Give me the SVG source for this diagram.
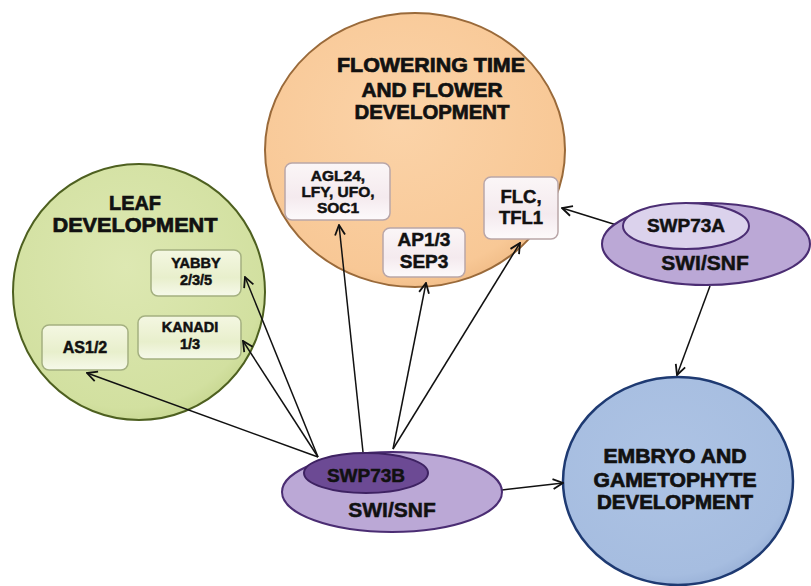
<svg xmlns="http://www.w3.org/2000/svg" width="811" height="586" viewBox="0 0 811 586">
<defs>
<radialGradient id="gGreen" cx="0.45" cy="0.4" r="0.65"><stop offset="0" stop-color="#dde8b2"/><stop offset="0.85" stop-color="#d2e0a0"/><stop offset="1" stop-color="#c4d48c"/></radialGradient>
<radialGradient id="gOrange" cx="0.45" cy="0.4" r="0.65"><stop offset="0" stop-color="#fbd3a8"/><stop offset="0.85" stop-color="#f8c896"/><stop offset="1" stop-color="#eeb882"/></radialGradient>
<radialGradient id="gBlue" cx="0.45" cy="0.4" r="0.65"><stop offset="0" stop-color="#adc3e4"/><stop offset="0.85" stop-color="#a6bde0"/><stop offset="1" stop-color="#94acd4"/></radialGradient>
<linearGradient id="gBoxG" x1="0" y1="0" x2="0" y2="1"><stop offset="0" stop-color="#f4f7e2"/><stop offset="0.6" stop-color="#e8efcc"/><stop offset="1" stop-color="#f6f9ea"/></linearGradient>
<linearGradient id="gBoxO" x1="0" y1="0" x2="0" y2="1"><stop offset="0" stop-color="#fbf6f7"/><stop offset="0.6" stop-color="#f4eaee"/><stop offset="1" stop-color="#fdfafb"/></linearGradient>
<marker id="arr" viewBox="0 0 12 12" refX="11" refY="6" markerWidth="12" markerHeight="12" markerUnits="userSpaceOnUse" orient="auto">
<path d="M1,1 L11,6 L1,11" fill="none" stroke="#111" stroke-width="1.8"/>
</marker>
</defs>
<style>
.t{font-family:"Liberation Sans",Arial,sans-serif;font-weight:bold;fill:#111;stroke:#111;stroke-width:0.5;text-anchor:middle}
.big{font-size:20px;stroke-width:0.7}
.boxG{fill:url(#gBoxG);stroke:#a4b080;stroke-width:1.5}
.boxO{fill:url(#gBoxO);stroke:#b9a6a8;stroke-width:1.5}
.conn line{stroke:#111;stroke-width:1.5;fill:none;marker-end:url(#arr)}
</style>
<rect width="811" height="586" fill="#ffffff"/>

<g id="leaf">
<ellipse cx="139" cy="292" rx="126" ry="128" fill="url(#gGreen)" stroke="#4e6020" stroke-width="2"/>
<text class="t big" x="135" y="210" textLength="52" lengthAdjust="spacingAndGlyphs">LEAF</text>
<text class="t big" x="135" y="232" textLength="165" lengthAdjust="spacingAndGlyphs">DEVELOPMENT</text>
</g>

<g id="flowering">
<ellipse cx="415" cy="150" rx="150" ry="137" fill="url(#gOrange)" stroke="#9a6a3a" stroke-width="2"/>
<text class="t big" x="431" y="72" textLength="188" lengthAdjust="spacingAndGlyphs">FLOWERING TIME</text>
<text class="t big" x="432" y="97" textLength="141" lengthAdjust="spacingAndGlyphs">AND FLOWER</text>
<text class="t big" x="432" y="119" textLength="155" lengthAdjust="spacingAndGlyphs">DEVELOPMENT</text>
</g>

<g id="embryo">
<ellipse cx="678" cy="481" rx="115" ry="104" fill="url(#gBlue)" stroke="#1e3a72" stroke-width="2.5"/>
<text class="t big" x="675" y="463" textLength="143" lengthAdjust="spacingAndGlyphs">EMBRYO AND</text>
<text class="t big" x="675" y="487" textLength="163" lengthAdjust="spacingAndGlyphs">GAMETOPHYTE</text>
<text class="t big" x="675" y="509" textLength="156" lengthAdjust="spacingAndGlyphs">DEVELOPMENT</text>
</g>

<g id="yabby">
<rect class="boxG" x="151" y="250" width="90" height="46" rx="7"/>
<text class="t" x="196" y="268" font-size="14.5">YABBY</text>
<text class="t" x="196" y="285" font-size="14.5">2/3/5</text>
</g>
<g id="kanadi">
<rect class="boxG" x="138" y="316" width="103" height="43" rx="7"/>
<text class="t" x="190" y="332" font-size="14.5">KANADI</text>
<text class="t" x="190" y="349" font-size="14.5">1/3</text>
</g>
<g id="as12">
<rect class="boxG" x="42" y="325" width="86" height="45" rx="7"/>
<text class="t" x="85" y="353" font-size="16">AS1/2</text>
</g>

<g id="agl24">
<rect class="boxO" x="285" y="163" width="105" height="57" rx="7"/>
<text class="t" x="338" y="181" font-size="15.5">AGL24,</text>
<text class="t" x="338" y="197" font-size="15.5">LFY, UFO,</text>
<text class="t" x="338" y="213" font-size="15.5">SOC1</text>
</g>
<g id="ap13">
<rect class="boxO" x="383" y="228" width="82" height="49" rx="7"/>
<text class="t" x="424" y="246" font-size="19">AP1/3</text>
<text class="t" x="424" y="268" font-size="19">SEP3</text>
</g>
<g id="flc">
<rect class="boxO" x="484" y="177" width="74" height="62" rx="7"/>
<text class="t" x="521" y="203" font-size="18.5">FLC,</text>
<text class="t" x="521" y="224" font-size="18.5">TFL1</text>
</g>

<g id="connectors" class="conn">
<line x1="318" y1="457" x2="87" y2="373"/>
<line x1="318" y1="457" x2="243" y2="341"/>
<line x1="318" y1="457" x2="245" y2="277"/>
<line x1="363" y1="452" x2="339" y2="225"/>
<line x1="393" y1="449" x2="426" y2="283"/>
<line x1="393" y1="449" x2="520" y2="243"/>
<line x1="502" y1="490" x2="563" y2="483"/>
<line x1="623" y1="227" x2="562" y2="208"/>
<line x1="710" y1="286" x2="677" y2="375"/>
</g>

<g id="swp73b">
<ellipse cx="392" cy="492" rx="110" ry="40" fill="#bba8d6" stroke="#4b2d73" stroke-width="2"/>
<ellipse cx="366" cy="473" rx="62" ry="20" fill="#6c4a94" stroke="#3e2262" stroke-width="2"/>
<text class="t" x="366" y="482" font-size="19">SWP73B</text>
<text class="t" x="392" y="517" font-size="21">SWI/SNF</text>
</g>

<g id="swp73a">
<ellipse cx="706" cy="244" rx="104" ry="41" fill="#bba8d6" stroke="#4b2d73" stroke-width="2"/>
<ellipse cx="686" cy="226" rx="63" ry="23" fill="#dbd2ec" stroke="#4b2d73" stroke-width="2"/>
<text class="t" x="686" y="232" font-size="19">SWP73A</text>
<text class="t" x="705" y="270" font-size="21">SWI/SNF</text>
</g>
</svg>
